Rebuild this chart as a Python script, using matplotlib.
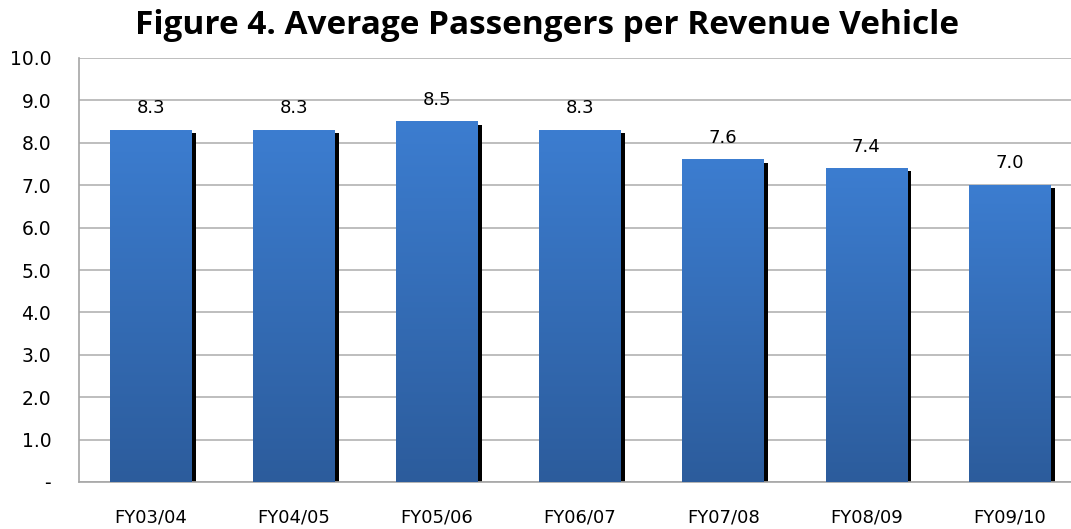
import matplotlib.pyplot as plt
import numpy as np
from matplotlib.patches import Rectangle

years = ['FY03/04', 'FY04/05', 'FY05/06', 'FY06/07', 'FY07/08', 'FY08/09', 'FY09/10']
passengers = [8.3, 8.3, 8.5, 8.3, 7.6, 7.4, 7.0]
yticks = [0, 1, 2, 3, 4, 5, 6, 7, 8, 9, 10]
ylabels = ['-', '1.0', '2.0', '3.0', '4.0', '5.0', '6.0', '7.0', '8.0', '9.0', '10.0']

fig = plt.figure(figsize=(10.71, 5.29), dpi=100)
ax = fig.add_axes([79 / 1071, 1 - 482 / 529, 992 / 1071, 424 / 529])

x = np.arange(len(years))
width = 0.57
shadow = 0.03

# vertical gradient: lighter blue on top, darker at the base
grad = np.linspace(0, 1, 256).reshape(-1, 1)
cmap = plt.matplotlib.colors.LinearSegmentedColormap.from_list(
    'bar', ['#2c5c9c', '#3c7dd0'])

for xi, v in zip(x, passengers):
    left = xi - width / 2
    # black drop shadow on the right side
    ax.add_patch(Rectangle((left + width, 0), shadow, v - 0.07,
                           color='black', zorder=2, lw=0))
    ax.imshow(grad, extent=(left, left + width, 0, v), origin='lower',
              cmap=cmap, aspect='auto', zorder=3)
    ax.text(xi, v + 0.3, f'{v:.1f}', ha='center', va='bottom',
            fontsize=13, color='black')

ax.set_xlim(-0.5, 6.43)
ax.set_ylim(0, 10)
ax.set_xticks(x)
ax.set_xticklabels(years, fontsize=13)
ax.set_yticks(yticks)
ax.set_yticklabels(ylabels, fontsize=13.5)
ax.tick_params(length=0)
ax.tick_params(axis='y', pad=20)
ax.tick_params(axis='x', pad=19)
ax.grid(axis='y', color='#b3b3b3', lw=1.2, zorder=0)
ax.set_axisbelow(True)
for s in ['top', 'right']:
    ax.spines[s].set_visible(False)
for s in ['left', 'bottom']:
    ax.spines[s].set_color('#a6a6a6')
    ax.spines[s].set_linewidth(1.2)

fig.text(0.511, 0.983, 'Figure 4. Average Passengers per Revenue Vehicle',
         ha='center', va='top', fontsize=24, fontweight='bold',
         family='Open Sans')

fig.savefig('out.png', dpi=100)
